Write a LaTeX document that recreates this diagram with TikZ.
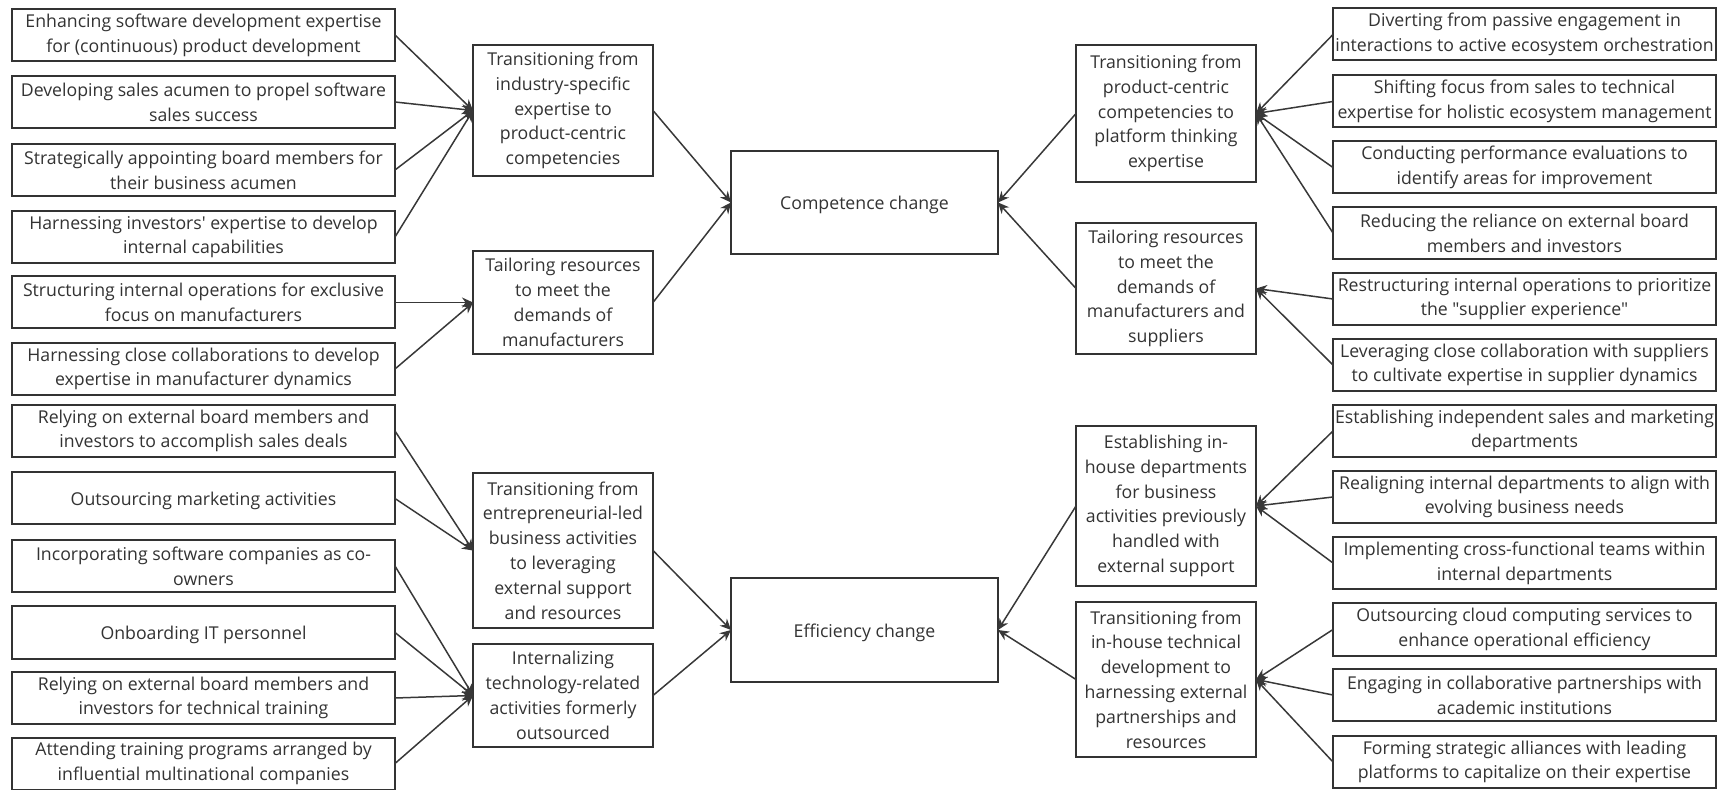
\documentclass[tikz,border=0pt]{standalone}
\usepackage{fontspec}
\setmainfont{Open Sans}[Ligatures=TeXOff]
\usetikzlibrary{arrows.meta}
\definecolor{ink}{HTML}{333333}
\definecolor{edge}{HTML}{383838}
\begin{document}
\begin{tikzpicture}[x=0.5pt, y=-0.5pt,
  box/.style={draw=ink, line width=1pt, fill=white, inner sep=0pt, outer sep=0pt,
    align=center, text=ink, font=\fontsize{8.85}{12.4}\selectfont,
    execute at begin node={\rule{0pt}{9.6pt}}},
  sidebox/.style={box, minimum width=191.5pt, minimum height=26pt},
  midbox/.style={box, minimum width=90pt},
  hubbox/.style={box, minimum width=133.5pt, minimum height=51.5pt},
  conn/.style={draw=edge, line width=0.75pt, -{Stealth[length=5.5pt,width=5pt]}}]
\useasboundingbox (0,0) rectangle (1724,790);

% outer left column
\node[sidebox] (L1)  at (203.5,35)    {Enhancing software development expertise\\for (continuous) product development};
\node[sidebox] (L2)  at (203.5,102)   {Developing sales acumen to propel software\\sales success};
\node[sidebox] (L3)  at (203.5,170)   {Strategically appointing board members for\\their business acumen};
\node[sidebox] (L4)  at (203.5,237)   {Harnessing investors' expertise to develop\\internal capabilities};
\node[sidebox] (L5)  at (203.5,302.5) {Structuring internal operations for exclusive\\focus on manufacturers};
\node[sidebox] (L6)  at (203.5,369)   {Harnessing close collaborations to develop\\expertise in manufacturer dynamics};
\node[sidebox] (L7)  at (203.5,431)   {Relying on external board members and\\investors to accomplish sales deals};
\node[sidebox] (L8)  at (203.5,498.5) {Outsourcing marketing activities};
\node[sidebox] (L9)  at (203.5,566)   {Incorporating software companies as co-\\owners};
\node[sidebox] (L10) at (203.5,632.5) {Onboarding IT personnel};
\node[sidebox] (L11) at (203.5,698)   {Relying on external board members and\\investors for technical training};
\node[sidebox] (L12) at (203.5,763.5) {Attending training programs arranged by\\influential multinational companies};

% inner left column
\node[midbox, minimum height=65.5pt] (ML1) at (563,110.5) {Transitioning from\\industry-specific\\expertise to\\product-centric\\competencies};
\node[midbox, minimum height=51.5pt] (ML2) at (563,302.5) {Tailoring resources\\to meet the\\demands of\\manufacturers};
\node[midbox, minimum height=77.5pt] (ML3) at (563,550.5) {Transitioning from\\entrepreneurial-led\\business activities\\to leveraging\\external support\\and resources};
\node[midbox, minimum height=51.5pt] (ML4) at (563,695.5) {Internalizing\\technology-related\\activities formerly\\outsourced};

% hubs
\node[hubbox] (C1) at (864.5,202.5) {Competence change};
\node[hubbox] (C2) at (864.5,630)   {Efficiency change};

% inner right column
\node[midbox, minimum height=68.5pt] (MR1) at (1166,113.5) {Transitioning from\\product-centric\\competencies to\\platform thinking\\expertise};
\node[midbox, minimum height=65.5pt] (MR2) at (1166,288.5) {Tailoring resources\\to meet the\\demands of\\manufacturers and\\suppliers};
\node[midbox, minimum height=80pt]   (MR3) at (1166,506)   {Establishing in-\\house departments\\for business\\activities previously\\handled with\\external support};
\node[midbox, minimum height=77.5pt] (MR4) at (1166,679.5) {Transitioning from\\in-house technical\\development to\\harnessing external\\partnerships and\\resources};

% outer right column
\node[sidebox] (R1)  at (1524.5,34.5)  {Diverting from passive engagement in\\interactions to active ecosystem orchestration};
\node[sidebox] (R2)  at (1524.5,101.5) {Shifting focus from sales to technical\\expertise for holistic ecosystem management};
\node[sidebox] (R3)  at (1524.5,167.5) {Conducting performance evaluations to\\identify areas for improvement};
\node[sidebox] (R4)  at (1524.5,233)   {Reducing the reliance on external board\\members and investors};
\node[sidebox] (R5)  at (1524.5,299)   {Restructuring internal operations to prioritize\\the "supplier experience"};
\node[sidebox] (R6)  at (1524.5,365)   {Leveraging close collaboration with suppliers\\to cultivate expertise in supplier dynamics};
\node[sidebox] (R7)  at (1524.5,431)   {Establishing independent sales and marketing\\departments};
\node[sidebox] (R8)  at (1524.5,497)   {Realigning internal departments to align with\\evolving business needs};
\node[sidebox] (R9)  at (1524.5,563)   {Implementing cross-functional teams within\\internal departments};
\node[sidebox] (R10) at (1524.5,629.5) {Outsourcing cloud computing services to\\enhance operational efficiency};
\node[sidebox] (R11) at (1524.5,695)   {Engaging in collaborative partnerships with\\academic institutions};
\node[sidebox] (R12) at (1524.5,762)   {Forming strategic alliances with leading\\platforms to capitalize on their expertise};

% left side connectors
\foreach \s in {L1,L2,L3,L4} \draw[conn] (\s.east) -- (ML1.west);
\foreach \s in {L5,L6} \draw[conn] (\s.east) -- (ML2.west);
\foreach \s in {L7,L8} \draw[conn] (\s.east) -- (ML3.west);
\foreach \s in {L9,L10,L11,L12} \draw[conn] (\s.east) -- (ML4.west);
\foreach \s in {ML1,ML2} \draw[conn] (\s.east) -- (C1.west);
\foreach \s in {ML3,ML4} \draw[conn] (\s.east) -- (C2.west);

% right side connectors
\foreach \s in {R1,R2,R3,R4} \draw[conn] (\s.west) -- (MR1.east);
\foreach \s in {R5,R6} \draw[conn] (\s.west) -- (MR2.east);
\foreach \s in {R7,R8,R9} \draw[conn] (\s.west) -- (MR3.east);
\foreach \s in {R10,R11,R12} \draw[conn] (\s.west) -- (MR4.east);
\foreach \s in {MR1,MR2} \draw[conn] (\s.west) -- (C1.east);
\foreach \s in {MR3,MR4} \draw[conn] (\s.west) -- (C2.east);
\end{tikzpicture}
\end{document}
